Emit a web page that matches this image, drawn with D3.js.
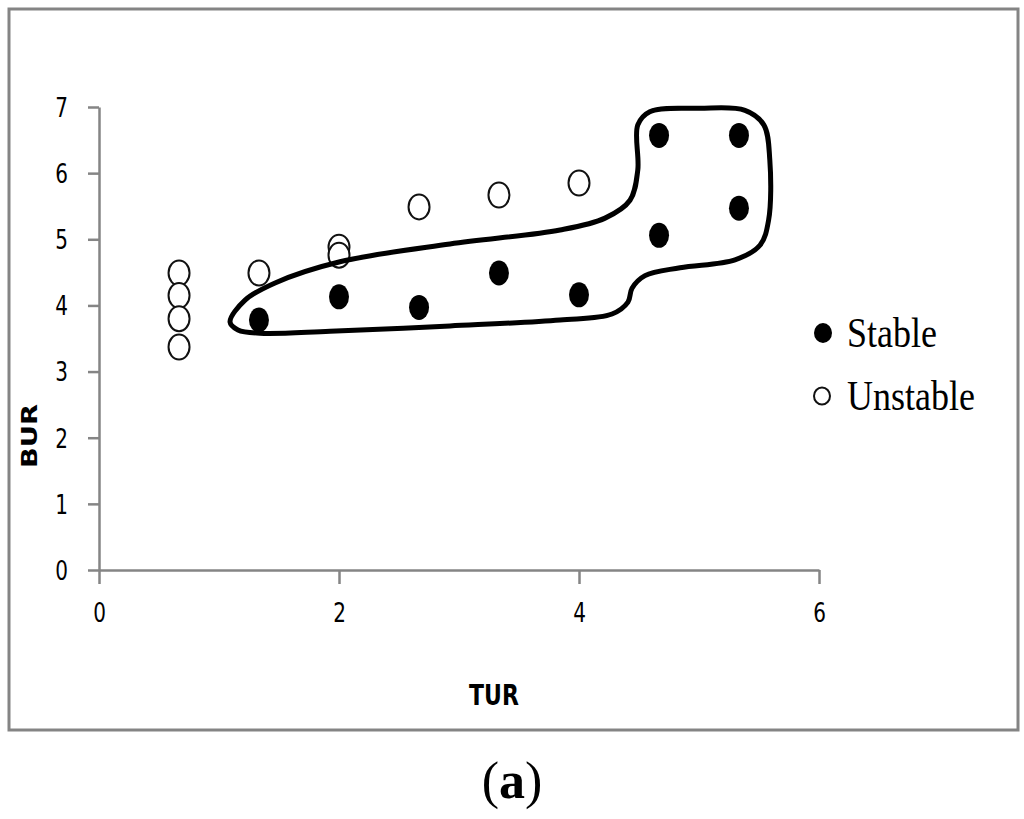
<!DOCTYPE html>
<html><head><meta charset="utf-8">
<script src="https://cdn.jsdelivr.net/npm/d3@7"></script>
<style>body{margin:0;background:#fff}svg{display:block}</style>
</head><body><svg id="c" width="1024" height="819"></svg>
<script>
// ---- data ----
const xTicks = [0, 2, 4, 6];
const yTicks = [0, 1, 2, 3, 4, 5, 6, 7];
const stableX = [1.333, 2, 2.667, 3.333, 4, 4.667, 5.333, 4.667, 5.333];
const stableY = [3.78, 4.13, 3.97, 4.49, 4.16, 6.57, 6.57, 5.06, 5.47];
const unstableX = [0.667, 0.667, 0.667, 0.667, 1.333, 2, 2, 2.667, 3.333, 4];
const unstableY = [4.49, 4.15, 3.80, 3.37, 4.49, 4.88, 4.76, 5.49, 5.67, 5.85];
// hand-drawn enclosing contour (data units)
const contourX = [1.092, 1.217, 1.467, 2.008, 2.925, 3.842, 4.217, 4.425, 4.490, 4.490, 4.590, 5.008, 5.383, 5.540, 5.590, 5.580, 5.508, 5.300, 4.842, 4.550, 4.442, 4.408, 4.275, 3.842, 2.925, 1.925, 1.342, 1.158];
const contourY = [3.75, 4.08, 4.34, 4.66, 4.93, 5.14, 5.32, 5.59, 6.05, 6.73, 6.93, 6.98, 6.95, 6.73, 6.20, 5.29, 4.91, 4.69, 4.57, 4.45, 4.26, 4.05, 3.87, 3.78, 3.69, 3.61, 3.58, 3.63];
const legendLabels = ["Stable", "Unstable"];
const xTitle = "TUR", yTitle = "BUR", panelLabel = "a";

// ---- drawing ----
const svg = d3.select("#c");
const x = d3.scaleLinear().domain([0, 6]).range([99, 819]);
const y = d3.scaleLinear().domain([0, 7]).range([570, 107]);
const axisColor = "#858585";
const SY = 1.3;

svg.append("rect").attr("x", 9).attr("y", 9).attr("width", 1009).attr("height", 721)
  .attr("fill", "none").attr("stroke", "#848484").attr("stroke-width", 3);

const gx = svg.append("g").attr("transform", `translate(0,${y(0)})`)
  .call(d3.axisBottom(x).tickValues(xTicks).tickSize(14).tickSizeOuter(0).tickFormat(d3.format("d")));
const gy = svg.append("g").attr("transform", `translate(${x(0)},0)`)
  .call(d3.axisLeft(y).tickValues(yTicks).tickSize(11).tickSizeOuter(0).tickFormat(d3.format("d")));
[gx, gy].forEach(g => {
  g.select(".domain").attr("stroke", axisColor).attr("stroke-width", 2.5);
  g.selectAll(".tick line").attr("stroke", axisColor).attr("stroke-width", 2.5);
  g.selectAll(".tick text").attr("fill", "#000").attr("font-family", "DejaVu Sans").attr("font-size", 20);
});
gx.selectAll(".tick text").attr("y", null).attr("dy", null)
  .attr("transform", `translate(0,${613 - 570}) scale(1,${SY})`).attr("dy", "0.36em");
gy.selectAll(".tick text").attr("x", null).attr("dy", null).attr("text-anchor", "end")
  .attr("transform", `translate(-31,0) scale(1,${SY})`).attr("dy", "0.36em");

// markers
const stable = stableX.map((v, i) => ({ x: v, y: stableY[i] }));
const unstable = unstableX.map((v, i) => ({ x: v, y: unstableY[i] }));
svg.append("g").selectAll("ellipse").data(unstable).join("ellipse")
  .attr("cx", d => x(d.x)).attr("cy", d => y(d.y)).attr("rx", 10.5).attr("ry", 12.5)
  .attr("fill", "#fff").attr("stroke", "#111").attr("stroke-width", 2);
svg.append("g").selectAll("ellipse").data(stable).join("ellipse")
  .attr("cx", d => x(d.x)).attr("cy", d => y(d.y)).attr("rx", 10).attr("ry", 12.5)
  .attr("fill", "#000");

// contour
const contour = contourX.map((v, i) => [v, contourY[i]]);
svg.append("path").datum(contour)
  .attr("d", d3.line().x(d => x(d[0])).y(d => y(d[1])).curve(d3.curveCatmullRomClosed.alpha(0.5)))
  .attr("fill", "none").attr("stroke", "#000").attr("stroke-width", 5).attr("stroke-linejoin", "round");

// axis titles
svg.append("text").attr("transform", `translate(494,705) scale(1,${SY})`)
  .attr("text-anchor", "middle").attr("font-family", "DejaVu Sans").attr("font-weight", "bold")
  .attr("font-size", 22).text(xTitle);
svg.append("text").attr("transform", `translate(37,436) rotate(-90) scale(${SY},1)`)
  .attr("text-anchor", "middle").attr("font-family", "DejaVu Sans").attr("font-weight", "bold")
  .attr("font-size", 21).text(yTitle);

// legend
const lg = svg.append("g");
lg.append("ellipse").attr("cx", 823).attr("cy", 333).attr("rx", 9).attr("ry", 10).attr("fill", "#000");
lg.append("ellipse").attr("cx", 822).attr("cy", 396).attr("rx", 8).attr("ry", 8.5)
  .attr("fill", "#fff").attr("stroke", "#111").attr("stroke-width", 2);
legendLabels.forEach((t, i) => {
  lg.append("text").attr("transform", `translate(847,${347 + i * 63}) scale(1,1.2)`)
    .attr("font-family", "Liberation Serif").attr("font-size", 36).attr("fill", "#000").text(t);
});

// panel label
const pl = svg.append("text").attr("x", 512).attr("y", 798).attr("text-anchor", "middle")
  .attr("font-family", "Liberation Serif").attr("font-size", 52).attr("fill", "#000");
pl.append("tspan").text("(");
pl.append("tspan").attr("font-weight", "bold").text(panelLabel);
pl.append("tspan").text(")");
</script>
</body></html>
